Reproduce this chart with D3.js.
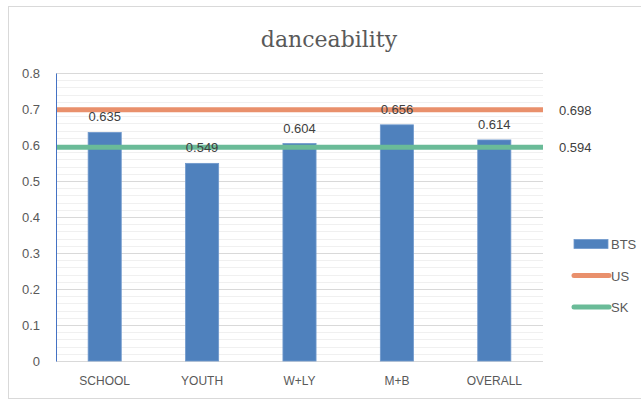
<!DOCTYPE html>
<html>
<head>
<meta charset="utf-8">
<script src="https://cdn.jsdelivr.net/npm/d3@7/dist/d3.min.js"></script>
<style>
  html, body { margin: 0; padding: 0; background: #fff; }
  svg { display: block; }
</style>
</head>
<body>
<script>
// Danceability: BTS albums vs. US and South Korea averages
const categories = ["SCHOOL", "YOUTH", "W+LY", "M+B", "OVERALL"];
const btsValues = [0.635, 0.549, 0.604, 0.656, 0.614];
const usValue = 0.698;
const skValue = 0.594;
const yTicks = [0, 0.1, 0.2, 0.3, 0.4, 0.5, 0.6, 0.7, 0.8];
const legendItems = ["BTS", "US", "SK"];

const W = 641, H = 402;
const margin = { left: 56, right: 98, top: 73, bottom: 41 };
const plotW = W - margin.left - margin.right;
const plotH = H - margin.top - margin.bottom;

const colors = { BTS: "#4F81BD", US: "#E9906C", SK: "#6ABB98" };
const textColor = "#595959";
const font = "'Liberation Sans', Arial, sans-serif";

const svg = d3.select("body").append("svg")
  .attr("width", W).attr("height", H);

// chart frame
svg.append("rect")
  .attr("x", 8.5).attr("y", 6.5)
  .attr("width", W - 8).attr("height", H - 10)
  .attr("fill", "#fff").attr("stroke", "#d9d9d9");

const x = d3.scaleBand().domain(categories)
  .range([margin.left, margin.left + plotW]).paddingInner(0.66).paddingOuter(0.33);
const y = d3.scaleLinear().domain([0, 0.8]).range([margin.top + plotH, margin.top]);

// minor gridlines
const minor = d3.range(0, 0.8001, 0.02);
svg.append("g").selectAll("line").data(minor).join("line")
  .attr("x1", margin.left).attr("x2", margin.left + plotW)
  .attr("y1", d => Math.round(y(d)) + 0.5).attr("y2", d => Math.round(y(d)) + 0.5)
  .attr("stroke", "#f0f0f0").attr("stroke-width", 1);

// major gridlines
svg.append("g").selectAll("line").data(yTicks).join("line")
  .attr("x1", margin.left).attr("x2", margin.left + plotW)
  .attr("y1", d => Math.round(y(d)) + 0.5).attr("y2", d => Math.round(y(d)) + 0.5)
  .attr("stroke", "#d9d9d9").attr("stroke-width", 1);

// y axis
const yAxis = svg.append("g")
  .attr("transform", `translate(${margin.left},0)`)
  .call(d3.axisLeft(y).tickValues(yTicks).tickSize(0).tickPadding(16)
    .tickFormat(d => d === 0 ? "0" : d3.format(".1f")(d)));
yAxis.select(".domain").attr("stroke", "#4472C4").attr("stroke-width", 1);
yAxis.selectAll("text").attr("fill", textColor)
  .style("font-family", font).style("font-size", "13px");

// x axis labels
const xAxis = svg.append("g")
  .attr("transform", `translate(0,${margin.top + plotH})`)
  .call(d3.axisBottom(x).tickSize(0).tickPadding(15));
xAxis.select(".domain").remove();
xAxis.selectAll("text").attr("fill", textColor)
  .style("font-family", font).style("font-size", "12px");

// bars
svg.append("g").selectAll("rect").data(btsValues).join("rect")
  .attr("x", (d, i) => x(categories[i]))
  .attr("y", d => y(d))
  .attr("width", x.bandwidth())
  .attr("height", d => y(0) - y(d))
  .attr("fill", colors.BTS)
  .attr("stroke", "#6F98CC").attr("stroke-width", 0.8);

// reference lines
const refs = [
  { key: "US", value: usValue },
  { key: "SK", value: skValue }
];
svg.append("g").selectAll("line").data(refs).join("line")
  .attr("x1", margin.left + 1).attr("x2", margin.left + plotW)
  .attr("y1", d => y(d.value)).attr("y2", d => y(d.value))
  .attr("stroke", d => colors[d.key]).attr("stroke-width", 5);

svg.append("g").selectAll("text").data(refs).join("text")
  .attr("x", margin.left + plotW + 16)
  .attr("y", d => y(d.value) + 5)
  .attr("fill", "#404040")
  .style("font-family", font).style("font-size", "13px")
  .text(d => d3.format(".3f")(d.value));

// bar value labels (drawn over the reference lines)
svg.append("g").selectAll("text").data(btsValues).join("text")
  .attr("x", (d, i) => x(categories[i]) + x.bandwidth() / 2)
  .attr("y", d => y(d) - 11)
  .attr("text-anchor", "middle")
  .attr("fill", "#404040")
  .style("font-family", font).style("font-size", "13px")
  .text(d => d3.format(".3f")(d));

// title
svg.append("text")
  .attr("x", 329).attr("y", 47)
  .attr("text-anchor", "middle")
  .attr("fill", textColor)
  .style("font-family", "'DejaVu Serif', 'Liberation Serif', serif")
  .style("font-size", "22px")
  .text("danceability");

// legend
const legend = svg.append("g").attr("transform", "translate(572,244)");
legendItems.forEach((k, i) => {
  const g = legend.append("g").attr("transform", `translate(0,${i * 31.5})`);
  if (k === "BTS") {
    g.append("rect").attr("x", 2).attr("y", -4.5).attr("width", 34).attr("height", 9)
      .attr("fill", colors.BTS).attr("stroke", "#6F98CC").attr("stroke-width", 0.8);
  } else {
    g.append("line").attr("x1", 2).attr("x2", 37).attr("y1", 0).attr("y2", 0)
      .attr("stroke", colors[k]).attr("stroke-width", 5).attr("stroke-linecap", "round");
  }
  g.append("text").attr("x", 39).attr("y", 5)
    .attr("fill", textColor)
    .style("font-family", font).style("font-size", "13px")
    .text(k);
});
</script>
</body>
</html>
